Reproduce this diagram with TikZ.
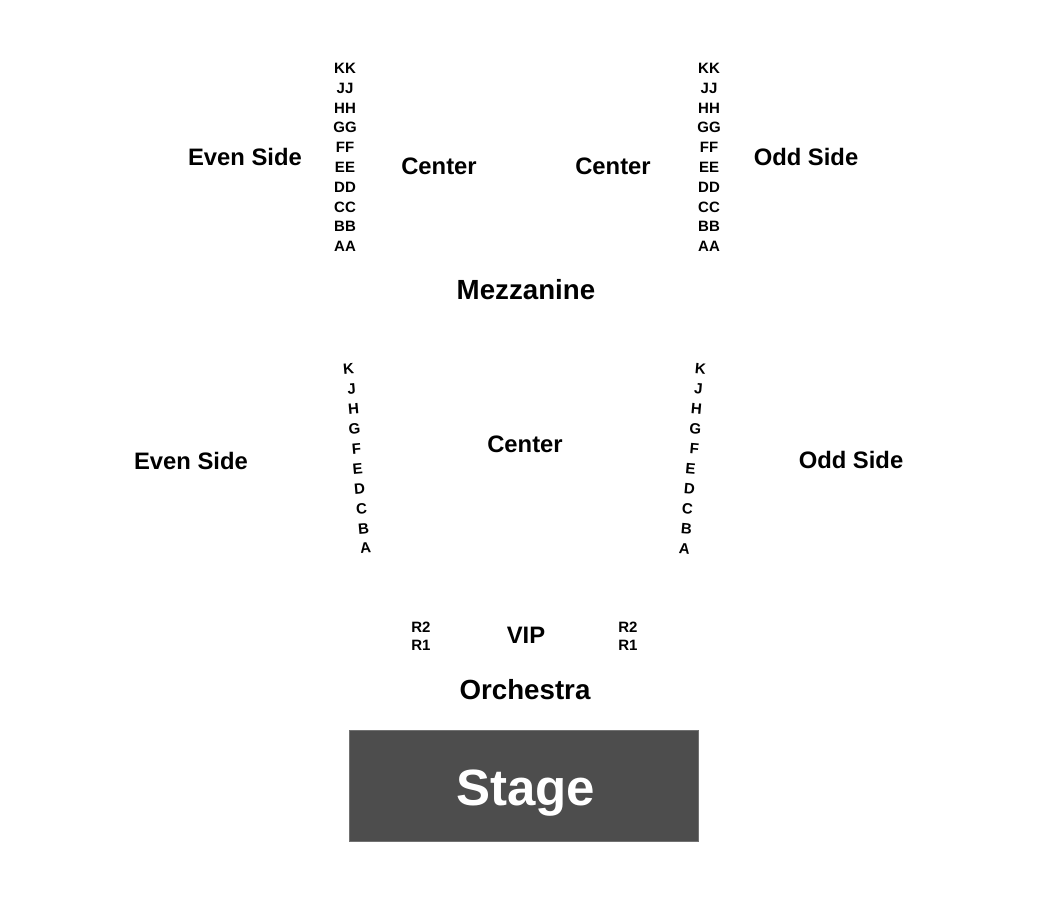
\documentclass[tikz,border=0pt]{standalone}
\usepackage{fontspec}
\setmainfont{Liberation Sans}
\begin{document}
\begin{tikzpicture}[x=1pt,y=-1pt,
  lbl/.style={anchor=base,inner sep=0pt,font=\fontsize{23.8}{24}\selectfont\bfseries},
  biglbl/.style={anchor=base,inner sep=0pt,font=\fontsize{27.7}{28}\selectfont\bfseries},
  rowlbl/.style={anchor=base,inner sep=0pt,font=\fontsize{15}{15}\selectfont\bfseries},
  stagebox/.style={fill=stagegray,draw=stagegray!80!white,line width=0.6pt},
  stagetxt/.style={anchor=base,inner sep=0pt,text=white,font=\fontsize{51}{51}\selectfont\bfseries}]
\definecolor{stagegray}{HTML}{4D4D4D}
\useasboundingbox (0,0) rectangle (1050,900);
% Mezzanine rows
\foreach \r [count=\i from 0] in {KK,JJ,HH,GG,FF,EE,DD,CC,BB,AA}{
  \node[rowlbl] (ml\i) at (345,{73.4+19.8*\i}) {\r};
  \node[rowlbl] (mr\i) at (709,{73.4+19.8*\i}) {\r};
}
\node[lbl] (mevens) at (245,165.6) {Even Side};
\node[lbl] (mcl) at (439,174.6) {Center};
\node[lbl] (mcr) at (613,174.6) {Center};
\node[lbl] (modds) at (806,165.6) {Odd Side};
\node[biglbl] (mezz) at (526,299) {Mezzanine};
% Orchestra rows
\foreach \r/\xl/\xr [count=\i from 0] in {K/349/700,J/352/698,H/354/696,G/355/695,F/357/694,E/358/690,D/360/689,C/362/687,B/364/686,A/366/684}{
  \node[rowlbl,rotate=5] (ol\i) at (\xl,{374.4+19.9*\i}) {\r};
  \node[rowlbl,rotate=-5] (or\i) at (\xr,{374.4+19.9*\i}) {\r};
}
\node[lbl] (oevens) at (191,469.6) {Even Side};
\node[lbl] (occ) at (525,452.6) {Center};
\node[lbl] (oodds) at (851,468.6) {Odd Side};
% VIP
\node[rowlbl] (vl2) at (421,632.4) {R2};
\node[rowlbl] (vl1) at (421,650.4) {R1};
\node[lbl] (vip) at (526,643.6) {VIP};
\node[rowlbl] (vr2) at (628,632.4) {R2};
\node[rowlbl] (vr1) at (628,650.4) {R1};
\node[biglbl] (orch) at (525,699) {Orchestra};
% Stage
\draw[stagebox] (349,730) rectangle (698,841);
\node[stagetxt] (stage) at (525.5,805) {Stage};
\end{tikzpicture}
\end{document}
